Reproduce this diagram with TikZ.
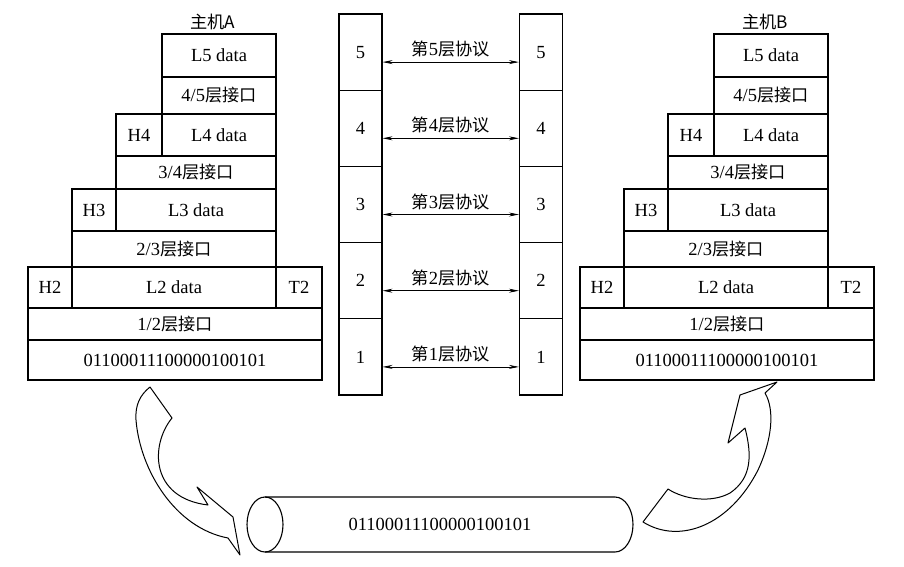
\documentclass[tikz,border=0pt]{standalone}
\usepackage{fontspec}
\setmainfont{Liberation Serif}
\newfontfamily\cjk{Noto Sans CJK SC}[Scale=0.93]
\usetikzlibrary{arrows.meta}

\begin{document}
\begin{tikzpicture}[x=1pt, y=-1pt, line width=1.1pt,
    font=\fontsize{18.5}{20}\selectfont,
    cell/.style 2 args={draw, rectangle, inner sep=0pt, minimum width=#1pt, minimum height=#2pt},
    layer/.style={draw, rectangle, inner sep=0pt, minimum width=43pt, minimum height=76.2pt},
    proto/.style={{Stealth[length=10pt,width=4pt]}-{Stealth[length=10pt,width=4pt]}, line width=0.7pt},
    ribbon/.style={line width=1pt, line join=round}
    ]
    \useasboundingbox (0,0) rectangle (904,567);
    \foreach \n/\h/\dx in {a/A/0, b/B/552} {
      \begin{scope}[xshift=\dx pt]
        \node[cell={114}{43}] (l5\n) at (219,55.5) {L5 data};
        \node[anchor=south, xshift=-6pt, font=\cjk\fontsize{18.5}{20}\selectfont] (host\n) at (l5\n.north) {主机\h};
        \node[cell={114}{37}] (i45\n) at (219,95.5) {4/5{\cjk 层接口}};
        \node[cell={46}{42}] (h4\n) at (139,135) {H4};
        \node[cell={114}{42}] (l4\n) at (219,135) {L4 data};
        \node[cell={160}{33}] (i34\n) at (196,172.5) {3/4{\cjk 层接口}};
        \node[cell={44}{42}] (h3\n) at (94,210) {H3};
        \node[cell={160}{42}] (l3\n) at (196,210) {L3 data};
        \node[cell={204}{36}] (i23\n) at (174,249) {2/3{\cjk 层接口}};
        \node[cell={44}{41}] (h2\n) at (50,287.5) {H2};
        \node[cell={204}{41}] (l2\n) at (174,287.5) {L2 data};
        \node[cell={46}{41}] (t2\n) at (299,287.5) {T2};
        \node[cell={294}{32}] (i12\n) at (175,324) {1/2{\cjk 层接口}};
        \node[cell={294}{40}] (bits\n) at (175,360) {01100011100000100101};
      \end{scope}
    }
    \foreach \i in {1,...,5} {
      \node[layer] (sa\i) at (360.5,{14+(5-\i)*76.2+38.1}) {\i};
      \node[layer] (sb\i) at (541,{14+(5-\i)*76.2+38.1}) {\i};
      \draw[proto] ([yshift=-10pt]sa\i.east) -- ([yshift=-10pt]sb\i.west);
      \path (sa\i) -- (sb\i) node[midway, yshift=3pt] (p\i) {{\cjk 第}\i{\cjk 层协议}};
    }
    \draw (265,524.5) ellipse [x radius=18pt, y radius=27.5pt];
    \draw (265,497) -- (615,497) arc[start angle=90, end angle=-90, x radius=18pt, y radius=27.5pt] -- (265,552);
    \node (wire) at (440,524.5) {01100011100000100101};
    \draw[ribbon] (150,387) -- (172,418) .. controls (150,445) and (150,498) .. (208,505)
      -- (197,487) -- (233,517) -- (240,555) -- (228,538)
      .. controls (175,528) and (140,470) .. (136,420)
      .. controls (135,405) and (140,395) .. (150,387) -- cycle;
    \draw[ribbon] (777,382) -- (740,395) -- (728,443) -- (745,428)
      .. controls (752,455) and (752,478) .. (730,493)
      .. controls (712,503) and (685,500) .. (668,489) -- (643,522)
      .. controls (680,545) and (730,525) .. (758,470)
      .. controls (772,440) and (775,410) .. (765,393) -- cycle;
\end{tikzpicture}
\end{document}
